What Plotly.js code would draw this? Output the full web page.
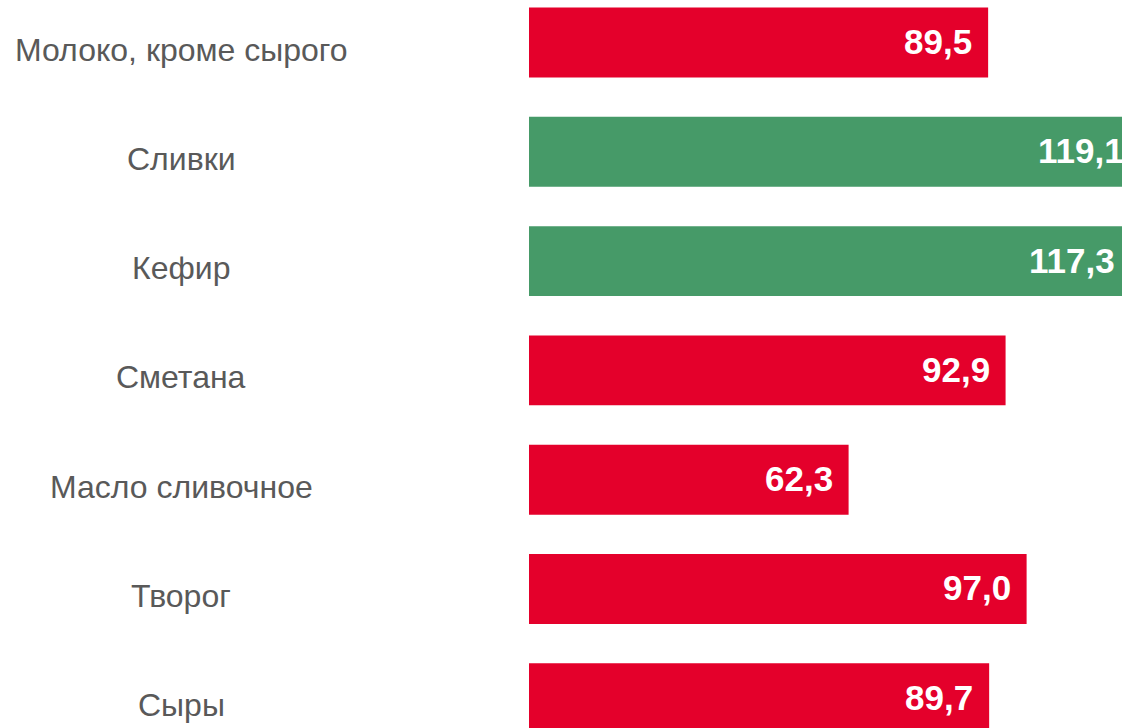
<!DOCTYPE html>
<html>
<head>
<meta charset="utf-8">
<script src="https://cdn.plot.ly/plotly-3.0.1.min.js"></script>
<style>
html,body{margin:0;padding:0;overflow:hidden;background:#fff;width:1122px;height:728px;}
#chart{width:1160px;height:728px;}
</style>
</head>
<body>
<div id="chart"></div>
<script>
const categories = ["Молоко, кроме сырого","Сливки","Кефир","Сметана","Масло сливочное","Творог","Сыры"];
const values = [89.5, 119.1, 117.3, 92.9, 62.3, 97.0, 89.7];
const labels = ["89,5","119,1","117,3","92,9","62,3","97,0","89,7"];
const RED = "#E4002B", GREEN = "#469A68";
const colors = values.map(v => v >= 100 ? GREEN : RED);

const trace = {
  type: "bar",
  orientation: "h",
  x: values,
  y: categories,
  marker: {color: colors, line: {width: 0}},
  hoverinfo: "none"
};

const annotations = [];
categories.forEach((c, i) => {
  annotations.push({
    xref: "x", yref: "y", x: values[i], y: c,
    text: labels[i], showarrow: false, xanchor: "right", yanchor: "middle",
    xshift: -14, yshift: 1,
    font: {family: "Liberation Sans, Arial, sans-serif", size: 35, color: "#ffffff", weight: "bold"}
  });
  annotations.push({
    xref: "paper", yref: "y", x: (181 - 529) / 631, y: c,
    text: c, showarrow: false, xanchor: "center", yanchor: "middle",
    yshift: -7,
    font: {family: "Liberation Sans, Arial, sans-serif", size: 32, color: "#595959"}
  });
});

const layout = {
  width: 1160, height: 728,
  margin: {l: 529, r: 0, t: 0, b: 0, pad: 0},
  paper_bgcolor: "#ffffff", plot_bgcolor: "#ffffff",
  bargap: 0.36,
  showlegend: false,
  xaxis: {range: [0, 631 / 5.13], showgrid: false, zeroline: false, showticklabels: false, showline: false, ticks: ""},
  yaxis: {type: "category", range: [6.272, -0.389], showgrid: false, zeroline: false, showticklabels: false, showline: false, ticks: ""},
  annotations: annotations
};

Plotly.newPlot("chart", [trace], layout, {displayModeBar: false, staticPlot: true});
</script>
</body>
</html>
